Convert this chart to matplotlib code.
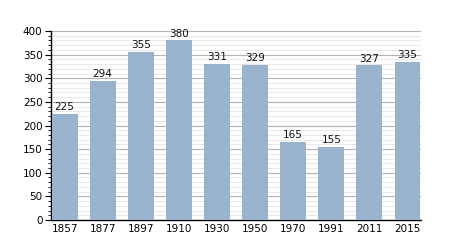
import matplotlib.pyplot as plt
from matplotlib.ticker import MultipleLocator

years = ['1857', '1877', '1897', '1910', '1930', '1950', '1970', '1991', '2011', '2015']
population = [225, 294, 355, 380, 331, 329, 165, 155, 327, 335]

BAR = '#99b3cf'

fig = plt.figure(figsize=(4.5, 2.5), dpi=100)
ax = fig.add_axes([0.113, 0.12, 0.823, 0.756])

x = range(len(years))
ax.bar(x, population, width=0.68, color=BAR, zorder=3)
for xi, v in zip(x, population):
    ax.text(xi, v + 4, str(v), ha='center', va='bottom', fontsize=7.5, color='#111111')

ax.set_xlim(-0.36, len(years) - 1 + 0.36)
ax.set_ylim(0, 400)
ax.set_xticks(list(x))
ax.set_xticklabels(years)
ax.yaxis.set_major_locator(MultipleLocator(50))
ax.yaxis.set_minor_locator(MultipleLocator(10))

ax.grid(axis='y', which='major', color='#b4b4b4', lw=0.8, zorder=1)
ax.grid(axis='y', which='minor', color='#e4e4e4', lw=0.6, zorder=0)
ax.set_axisbelow(True)

for s in ['top', 'right']:
    ax.spines[s].set_visible(False)
ax.spines['left'].set_linewidth(1.0)
ax.spines['bottom'].set_linewidth(1.0)
ax.tick_params(axis='x', length=0, labelsize=7.5, pad=3)
ax.tick_params(axis='y', which='major', length=4, labelsize=7.5, pad=2)
ax.tick_params(axis='y', which='minor', length=2)

fig.savefig('out.png', dpi=100)
